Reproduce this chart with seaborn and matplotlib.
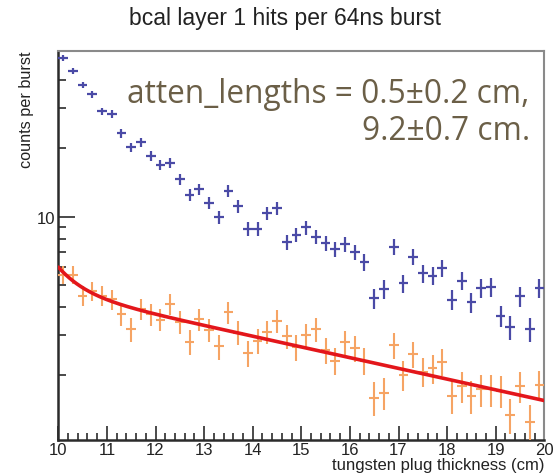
import numpy as np
import matplotlib
matplotlib.use("Agg")
import matplotlib.pyplot as plt
import matplotlib.ticker as mticker
import seaborn as sns

# --- data: 50 bins of tungsten plug thickness, 10-20 cm ---
bin_edges = np.linspace(10.0, 20.0, 51)

blue_counts = [50.0, 44.0, 38.0, 34.6, 29.1, 28.3, 23.3, 20.2, 21.3, 18.5,
               16.9, 17.2, 14.6, 12.5, 13.2, 11.5, 9.97, 13.0, 11.1, 8.83,
               8.83, 10.35, 10.9, 7.71, 8.34, 8.98, 8.17, 7.66, 7.21, 7.58,
               6.97, 6.30, 4.37, 4.80, 7.38, 5.09, 6.67, 5.63, 5.50, 5.93,
               4.31, 5.23, 4.20, 4.84, 4.92, 3.66, 3.26, 4.46, 3.20, 4.84]
blue_errors = [1.48, 1.39, 1.29, 1.24, 1.13, 1.12, 1.01, 0.94, 0.97, 0.90,
               0.86, 0.87, 0.80, 0.74, 0.76, 0.71, 0.66, 0.76, 0.70, 0.62,
               0.62, 0.68, 0.69, 0.58, 0.61, 0.63, 0.60, 0.58, 0.56, 0.58,
               0.55, 0.53, 0.44, 0.46, 0.57, 0.47, 0.54, 0.50, 0.49, 0.51,
               0.44, 0.48, 0.43, 0.46, 0.47, 0.40, 0.38, 0.44, 0.38, 0.46]

orange_counts = [5.55, 5.55, 4.49, 4.72, 4.49, 4.34, 3.73, 3.20, 3.92, 3.73,
                 3.52, 4.13, 3.45, 2.81, 3.54, 3.17, 2.69, 3.79, 3.09, 2.51,
                 2.84, 3.11, 3.48, 2.97, 2.66, 3.01, 3.20, 2.59, 2.32, 2.80,
                 2.63, 2.32, 1.60, 1.68, 2.72, 2.01, 2.48, 2.08, 2.15, 2.30,
                 1.63, 1.79, 1.62, 1.74, 1.74, 1.71, 1.34, 1.79, 1.25, 1.82]
orange_errors = [0.49, 0.49, 0.44, 0.46, 0.44, 0.44, 0.41, 0.38, 0.42, 0.41,
                 0.39, 0.43, 0.39, 0.35, 0.40, 0.37, 0.34, 0.41, 0.37, 0.33,
                 0.35, 0.37, 0.39, 0.36, 0.34, 0.36, 0.38, 0.34, 0.32, 0.35,
                 0.34, 0.32, 0.27, 0.27, 0.35, 0.30, 0.33, 0.30, 0.31, 0.32,
                 0.27, 0.28, 0.27, 0.28, 0.28, 0.27, 0.24, 0.28, 0.23, 0.28]

# double-exponential fit to the orange points
fit_amplitudes = [1.4, 4.6]
atten_lengths = [0.5, 9.2]
atten_errors = [0.2, 0.7]

x_ticks = [10, 11, 12, 13, 14, 15, 16, 17, 18, 19, 20]

BLUE = "#4a4aa6"
ORANGE = "#f6a464"
RED = "#e3161b"
NOTE = "#6b5f47"
AXIS = "#2b2b2b"

sns.set_style("white")
plt.rcParams["font.family"] = ["Liberation Sans", "DejaVu Sans"]

W, H = 554, 477
fig = plt.figure(figsize=(W / 100, H / 100), dpi=100)
left, right, top, bottom = 58.3, 544.3, 52.3, 441.0
ax = fig.add_axes([left / W, 1 - bottom / H, (right - left) / W, (bottom - top) / H])

centers = 0.5 * (bin_edges[:-1] + bin_edges[1:])
half_width = 0.5 * (bin_edges[1] - bin_edges[0])

ax.errorbar(centers, blue_counts, xerr=half_width, yerr=blue_errors,
            fmt="none", ecolor=BLUE, elinewidth=1.6, capsize=0, zorder=3)
ax.errorbar(centers, orange_counts, xerr=half_width, yerr=orange_errors,
            fmt="none", ecolor=ORANGE, elinewidth=1.5, capsize=0, zorder=3)

xf = np.linspace(10.0, 20.0, 400)
yf = sum(a * np.exp(-(xf - 10.0) / lam) for a, lam in zip(fit_amplitudes, atten_lengths))
sns.lineplot(x=xf, y=yf, color=RED, linewidth=2.6, ax=ax, zorder=4)

ax.set_yscale("log")
ax.set_xlim(10, 20)
ax.set_ylim(1.04, 53.5)
ax.grid(False)

ax.xaxis.set_major_locator(mticker.FixedLocator(x_ticks))
ax.xaxis.set_minor_locator(mticker.MultipleLocator(0.2))
ax.yaxis.set_major_locator(mticker.LogLocator(base=10))
ax.yaxis.set_minor_locator(mticker.LogLocator(base=10, subs=np.arange(2, 10)))
ax.yaxis.set_minor_formatter(mticker.NullFormatter())
ax.yaxis.set_major_formatter(mticker.FuncFormatter(lambda v, p: f"{v:g}"))

ax.tick_params(axis="both", which="both", bottom=True, left=True, top=False, right=False)
ax.tick_params(axis="x", which="major", direction="in", length=10, width=1.2,
               color=AXIS, labelsize=12, labelcolor="#222222", pad=1.5)
ax.tick_params(axis="x", which="minor", direction="in", length=5, width=1.2, color=AXIS)
ax.tick_params(axis="y", which="major", direction="in", length=12, width=1.2,
               color=AXIS, labelsize=12, labelcolor="#222222", pad=2)
ax.tick_params(axis="y", which="minor", direction="in", length=6, width=1.2, color=AXIS)

for side in ("left", "bottom"):
    ax.spines[side].set_color(AXIS)
    ax.spines[side].set_linewidth(1.8)
for side in ("top", "right"):
    ax.spines[side].set_color("#8a8a8a")
    ax.spines[side].set_linewidth(1.5)

fig.text(285 / W, 1 - 19 / H, "bcal layer 1 hits per 64ns burst",
         ha="center", va="center", fontsize=16.5, color="#222222")
fig.text(27 / W, 1 - 52 / H, "counts per burst", rotation=90,
         ha="center", va="top", fontsize=11.7, color="#222222")
fig.text(545 / W, 1 - 466 / H, "tungsten plug thickness (cm)",
         ha="right", va="center", fontsize=12, color="#222222")

line1 = f"atten_lengths = {atten_lengths[0]}\u00b1{atten_errors[0]} cm,"
line2 = f"{atten_lengths[1]}\u00b1{atten_errors[1]} cm."
fig.text(529 / W, 1 - 103 / H, line1, ha="right", va="baseline",
         fontsize=22.8, color=NOTE, family=["Open Sans", "DejaVu Sans"])
fig.text(530 / W, 1 - 140 / H, line2, ha="right", va="baseline",
         fontsize=22.8, color=NOTE, family=["Open Sans", "DejaVu Sans"])

fig.savefig("out.png", dpi=100)
